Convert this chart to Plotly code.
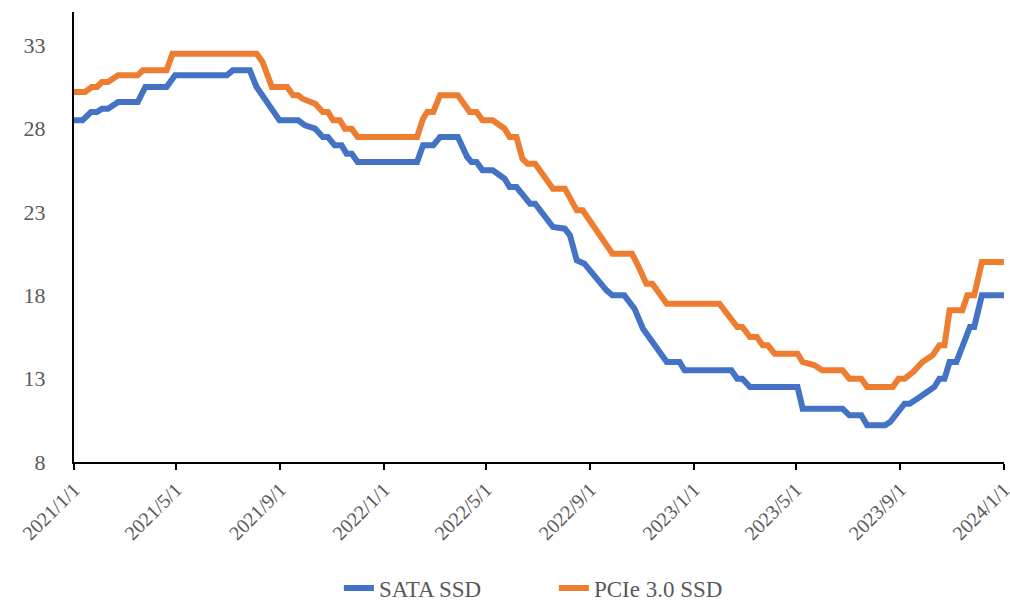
import plotly.graph_objects as go

sata_dates = [
    "2021-01-01", "2021-01-11", "2021-01-21", "2021-01-28", "2021-02-03", "2021-02-10",
    "2021-02-22", "2021-03-17", "2021-03-26", "2021-04-20", "2021-04-30", "2021-06-30",
    "2021-07-07", "2021-07-27", "2021-08-04", "2021-08-31", "2021-09-22", "2021-09-30",
    "2021-10-12", "2021-10-21", "2021-10-27", "2021-11-04", "2021-11-12", "2021-11-18",
    "2021-11-24", "2021-12-01", "2022-02-09", "2022-02-16", "2022-02-28", "2022-03-08",
    "2022-03-29", "2022-04-09", "2022-04-14", "2022-04-20", "2022-04-27", "2022-05-09",
    "2022-05-23", "2022-05-29", "2022-06-06", "2022-06-22", "2022-06-28", "2022-07-19",
    "2022-08-02", "2022-08-08", "2022-08-16", "2022-08-25", "2022-09-20", "2022-09-27",
    "2022-10-11", "2022-10-23", "2022-11-02", "2022-11-30", "2022-12-15", "2022-12-21",
    "2023-02-14", "2023-02-21", "2023-02-27", "2023-03-08", "2023-05-03", "2023-05-09",
    "2023-06-25", "2023-07-03", "2023-07-17", "2023-07-24", "2023-08-14", "2023-08-20",
    "2023-09-06", "2023-09-12", "2023-09-24", "2023-10-11", "2023-10-17", "2023-10-23",
    "2023-10-29", "2023-11-06", "2023-11-22", "2023-11-27", "2023-12-06", "2024-01-01",
]
sata_values = [
    28.5, 28.5, 29.0, 29.0, 29.2, 29.2,
    29.6, 29.6, 30.5, 30.5, 31.2, 31.2,
    31.5, 31.5, 30.5, 28.5, 28.5, 28.2,
    28.0, 27.5, 27.5, 27.0, 27.0, 26.5,
    26.5, 26.0, 26.0, 27.0, 27.0, 27.5,
    27.5, 26.3, 26.0, 26.0, 25.5, 25.5,
    25.0, 24.5, 24.5, 23.5, 23.5, 22.1,
    22.0, 21.6, 20.1, 19.9, 18.3, 18.0,
    18.0, 17.2, 16.0, 14.0, 14.0, 13.5,
    13.5, 13.0, 13.0, 12.5, 12.5, 11.2,
    11.2, 10.8, 10.8, 10.2, 10.2, 10.4,
    11.5, 11.5, 11.9, 12.5, 13.0, 13.0,
    14.0, 14.0, 16.1, 16.1, 18.0, 18.0,
]

pcie_dates = [
    "2021-01-01", "2021-01-14", "2021-01-22", "2021-01-28", "2021-02-03", "2021-02-10",
    "2021-02-22", "2021-03-17", "2021-03-23", "2021-04-20", "2021-04-27", "2021-08-04",
    "2021-08-11", "2021-08-22", "2021-09-09", "2021-09-16", "2021-09-22", "2021-09-27",
    "2021-10-12", "2021-10-21", "2021-10-27", "2021-11-02", "2021-11-10", "2021-11-16",
    "2021-11-24", "2021-12-01", "2022-02-09", "2022-02-16", "2022-02-21", "2022-02-28",
    "2022-03-08", "2022-03-29", "2022-04-12", "2022-04-20", "2022-04-27", "2022-05-09",
    "2022-05-23", "2022-05-29", "2022-06-06", "2022-06-13", "2022-06-19", "2022-06-28",
    "2022-07-19", "2022-08-02", "2022-08-16", "2022-08-23", "2022-09-27", "2022-10-20",
    "2022-10-27", "2022-11-06", "2022-11-13", "2022-11-30", "2023-01-31", "2023-02-21",
    "2023-02-27", "2023-03-08", "2023-03-16", "2023-03-23", "2023-03-29", "2023-04-06",
    "2023-05-03", "2023-05-09", "2023-05-23", "2023-06-01", "2023-06-25", "2023-07-03",
    "2023-07-17", "2023-07-24", "2023-08-23", "2023-08-30", "2023-09-06", "2023-09-16",
    "2023-09-27", "2023-10-09", "2023-10-17", "2023-10-23", "2023-10-29", "2023-11-13",
    "2023-11-19", "2023-11-27", "2023-12-06", "2024-01-01",
]
pcie_values = [
    30.2, 30.2, 30.5, 30.5, 30.8, 30.8,
    31.2, 31.2, 31.5, 31.5, 32.5, 32.5,
    32.0, 30.5, 30.5, 30.0, 30.0, 29.8,
    29.5, 29.0, 29.0, 28.5, 28.5, 28.0,
    28.0, 27.5, 27.5, 28.6, 29.0, 29.0,
    30.0, 30.0, 29.0, 29.0, 28.5, 28.5,
    28.0, 27.5, 27.5, 26.2, 25.9, 25.9,
    24.4, 24.4, 23.1, 23.1, 20.5, 20.5,
    19.8, 18.7, 18.7, 17.5, 17.5, 16.1,
    16.1, 15.5, 15.5, 15.0, 15.0, 14.5,
    14.5, 14.0, 13.8, 13.5, 13.5, 13.0,
    13.0, 12.5, 12.5, 13.0, 13.0, 13.4,
    14.0, 14.4, 15.0, 15.0, 17.1, 17.1,
    18.0, 18.0, 20.0, 20.0,
]

tick_dates = ["2021-01-01", "2021-05-01", "2021-09-01", "2022-01-01", "2022-05-01",
              "2022-09-01", "2023-01-01", "2023-05-01", "2023-09-01", "2024-01-01"]
tick_labels = ["2021/1/1", "2021/5/1", "2021/9/1", "2022/1/1", "2022/5/1",
               "2022/9/1", "2023/1/1", "2023/5/1", "2023/9/1", "2024/1/1"]
y_ticks = [8, 13, 18, 23, 28, 33]

fig = go.Figure()
fig.add_trace(go.Scatter(x=sata_dates, y=sata_values, mode="lines", name="SATA SSD",
                         line=dict(color="#4472C4", width=6)))
fig.add_trace(go.Scatter(x=pcie_dates, y=pcie_values, mode="lines", name="PCIe 3.0 SSD",
                         line=dict(color="#ED7D31", width=6)))

fig.update_layout(
    width=1010, height=603,
    margin=dict(l=74, r=6, t=12, b=141, autoexpand=False),
    paper_bgcolor="white", plot_bgcolor="white",
    font=dict(family="Liberation Serif, Times New Roman, serif", color="#595959", size=22),
    showlegend=True,
    legend=dict(orientation="h", x=0.516, xanchor="center", y=-0.28, yanchor="middle",
                font=dict(size=23, color="#595959"),
                entrywidth=170, entrywidthmode="pixels",
                tracegroupgap=0),
    xaxis=dict(type="date", range=["2021-01-01", "2024-01-01 02:00"],
               tickvals=tick_dates, ticktext=tick_labels, tickangle=-45,
               tickfont=dict(size=20), ticklabeloverflow="allow",
               showline=True, linecolor="black", linewidth=2,
               ticks="outside", ticklen=6, tickwidth=2, tickcolor="black",
               showgrid=False, zeroline=False, automargin=False),
    yaxis=dict(range=[8, 35], tickvals=y_ticks, tickfont=dict(size=22),
               showline=True, linecolor="black", linewidth=2,
               ticks="", showgrid=False, zeroline=False, ticklabelstandoff=22,
               automargin=False),
)

fig.write_html(
    "out.html",
    config={"displayModeBar": False},
    post_script="document.body.style.margin='0';document.body.style.overflow='hidden';",
)
